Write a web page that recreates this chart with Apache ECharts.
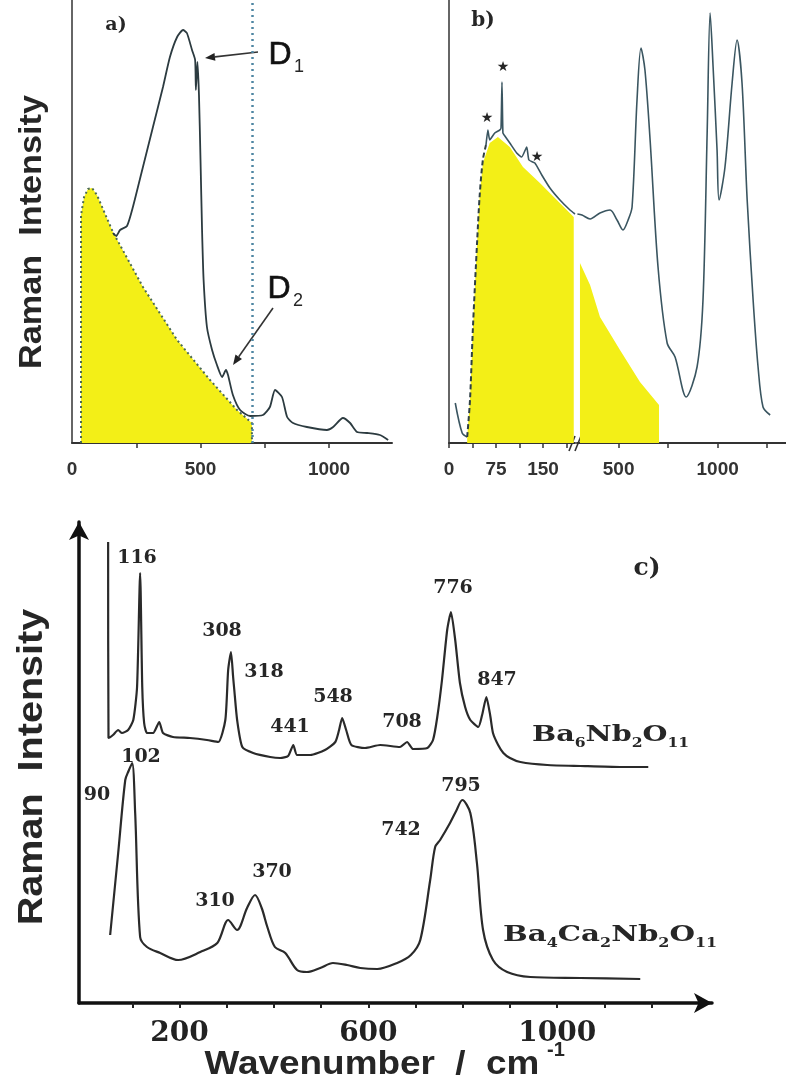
<!DOCTYPE html>
<html>
<head>
<meta charset="utf-8">
<script src="https://cdn.jsdelivr.net/npm/echarts@6/dist/echarts.min.js"></script>
<style>
    html, body { margin: 0; padding: 0; background: #fff; }
    #chart { width: 786px; height: 1090px; }
</style>
</head>
<body>
<div id="chart"></div>
<script>
// ---- a) Raman spectrum, wavenumber vs intensity (arbitrary units)
const curveA = [
    [159, 210], [172, 207], [187, 213], [214, 217], [237, 236], [276, 276], [315, 316], [354, 356], [381, 386],
    [409, 406], [432, 413], [447, 410], [467, 393], [479, 383], [482, 353], [488, 381], [494, 348],
    [500, 283], [506, 213], [512, 163], [525, 116], [545, 93], [564, 78], [584, 66], [599, 73],
    [607, 68], [626, 48], [654, 33], [693, 27], [743, 28], [770, 36], [790, 53], [817, 46],
    [837, 26], [860, 20], [914, 16], [992, 13], [1016, 16], [1054, 25], [1082, 20], [1109, 11],
    [1148, 10], [1198, 8], [1230, 3]
]
const bosonA = [
    [35, 0], [35, 228], [47, 246], [62, 254], [78, 255], [97, 248], [159, 211], [276, 156],
    [409, 103], [537, 63], [642, 33], [700, 20], [700, 0]
]
const cutA = 700
const ticksA = [250, 500, 750, 1000]
const labelsA = [0, 500, 1000]

// ---- b) left part of broken axis (0-200) and right part (290-1345)
const curveB0 = [[10, 40], [21, 10], [29, 6]]
const curveBRise = [[29, 6], [33.5, 43], [38, 113], [45, 203], [49, 248], [54, 283], [59, 298]]
const curveBTop = [
    [59, 298], [62, 313], [65, 303], [73, 310], [81, 313], [83, 315], [84.5, 361], [86, 310],
    [88, 308], [97, 300], [108, 290], [116, 286], [124, 296], [127.5, 283], [137, 280], [148, 268],
    [161, 255], [177, 243], [193, 233], [201, 229]
]
const curveBRight = [
    [292, 229], [315, 228], [356, 224], [406, 230], [457, 233], [492, 223], [522, 213], [548, 223],
    [568, 236], [593, 343], [613, 395], [633, 373], [659, 303], [699, 176], [745, 100], [785, 86],
    [841, 46], [896, 76], [926, 143], [947, 310], [962, 430], [977, 376], [997, 293], [1007, 243],
    [1037, 276], [1073, 360], [1098, 403], [1123, 360], [1149, 243], [1179, 143], [1204, 76],
    [1229, 36], [1265, 28]
]
const bosonB1 = [
    [29, 0], [29, 6], [33.5, 43], [38, 113], [45, 203], [49, 248], [54, 280], [65, 300],
    [78, 306], [97, 296], [118, 276], [145, 260], [172, 243], [199, 226], [199, 0]
]
const bosonB2 = [[305, 0], [305, 180], [356, 158], [406, 126], [507, 93], [608, 61], [704, 38], [704, 0]]
const ticksB1 = [0, 37.5, 75, 112.5, 150, 187.5]
const labelsB1 = [0, 75, 150]
const ticksB2 = [500, 750, 1000, 1250]
const labelsB2 = [500, 1000]

// ---- c) Ba6Nb2O11 (upper) and Ba4Ca2Nb2O11 (lower)
const curveBa6 = [
    [48.7, 461], [49.5, 265], [59, 268], [70, 273], [78, 270], [91, 273], [102, 283], [110, 316],
    [116.5, 430], [121, 316], [125, 280], [131, 270], [144, 270], [157, 281], [165, 270], [186, 266],
    [222, 265], [258, 263], [282, 261], [297, 283], [303, 333], [309, 351], [313.5, 326], [316, 313],
    [322, 283], [333, 256], [356, 250], [392, 246], [413, 245], [430, 247], [441, 258], [449, 248],
    [477, 248], [508, 253], [530, 261], [538, 273], [544.5, 285], [553, 273], [564, 258], [593, 255],
    [625, 258], [667, 256], [682, 261], [695, 254], [725, 255], [737, 263], [746, 286], [756, 323],
    [767, 373], [775, 391], [784, 363], [794, 320], [805, 296], [816, 283], [833, 276], [841, 288],
    [850, 306], [858, 288], [864, 270], [875, 258], [886, 250], [900, 245], [922, 241], [979, 238],
    [1049, 237], [1133, 236], [1193, 236]
]
const curveBa4 = [
    [53, 68], [70, 150], [85, 223], [92, 232], [99.6, 240], [106, 190], [116.5, 66], [131, 56],
    [159, 50], [197, 43], [244, 51], [280, 60], [303, 83], [322, 73], [343, 95], [360, 108],
    [374, 95], [386, 76], [402, 56], [424, 50], [449, 33], [470, 31], [498, 35], [525, 40],
    [555, 38], [583, 35], [619, 34], [661, 40], [690, 48], [710, 63], [731, 123], [741.5, 156],
    [752, 163], [773, 180], [786, 192], [799, 203], [816, 190], [830, 140], [843, 73], [864, 43],
    [894, 31], [943, 26], [1049, 25], [1176, 24]
]
const ticksC = [100, 200, 300, 400, 500, 600, 700, 800, 900, 1000, 1100, 1200]
const labelsC = [200, 600, 1000]

// peak labels of c): [text, x, y] in pixels
const peakLabels = [
    ['116', 137, 558], ['308', 222, 631], ['318', 264, 672], ['441', 290, 727], ['548', 333, 697],
    ['708', 402, 722], ['776', 453, 588], ['847', 497, 680], ['102', 141, 757], ['90', 97, 795],
    ['310', 215, 901], ['370', 272, 872], ['742', 401, 830], ['795', 461, 786]
]
const stars = [[487, 118], [503, 67], [537, 157]]

const SANS = 'Liberation Sans, Arial, sans-serif'
const SERIF = 'DejaVu Serif, serif'
const INK = '#262626'
const YELLOW = '#f3ef17'

function arrow(x1, y1, x2, y2) {
    const len = Math.hypot(x2 - x1, y2 - y1)
    const dx = (x2 - x1) / len, dy = (y2 - y1) / len
    const bx = x2 - dx * 10, by = y2 - dy * 10
    return [
        { type: 'line', shape: { x1, y1, x2: bx, y2: by }, style: { stroke: '#333', lineWidth: 1.6 } },
        { type: 'polygon', shape: { points: [[x2, y2], [bx - dy * 4, by + dx * 4], [bx + dy * 4, by - dx * 4]] }, style: { fill: '#222' } }
    ]
}

function txt(text, x, y, font, extra) {
    return Object.assign({
        type: 'text', x, y,
        style: { text, font, fill: INK, align: 'center', verticalAlign: 'middle' }
    }, extra || {})
}

const plain = v => String(v)
const labelSansStyle = { color: '#333', fontFamily: SANS, fontWeight: 'bold', fontSize: 19, margin: 17, formatter: plain }
const thinAxis = { show: true, onZero: false, lineStyle: { color: '#333', width: 2 } }
const smoothLine = { type: 'line', symbol: 'none', z: 3, smooth: 0.3 }

const chart = echarts.init(document.getElementById('chart'))
chart.setOption({
    animation: false,
    grid: [
        { left: 72, top: 0, width: 320, height: 443 },
        { left: 449, top: 0, width: 126, height: 443 },
        { left: 577, top: 0, width: 209, height: 443 },
        { left: 79, top: 522, width: 633, height: 481 }
    ],
    xAxis: [
        {
            gridIndex: 0, type: 'value', min: 0, max: 1245, axisLine: thinAxis, splitLine: { show: false },
            axisTick: { customValues: ticksA, length: 5, lineStyle: { color: '#333', width: 1.5 } },
            axisLabel: Object.assign({ customValues: labelsA }, labelSansStyle)
        },
        {
            gridIndex: 1, type: 'value', min: 0, max: 201, axisLine: thinAxis, splitLine: { show: false },
            axisTick: { customValues: ticksB1, length: 5, lineStyle: { color: '#333', width: 1.5 } },
            axisLabel: Object.assign({ customValues: labelsB1 }, labelSansStyle)
        },
        {
            gridIndex: 2, type: 'value', min: 290, max: 1345, axisLine: thinAxis, splitLine: { show: false },
            axisTick: { customValues: ticksB2, length: 5, lineStyle: { color: '#333', width: 1.5 } },
            axisLabel: Object.assign({ customValues: labelsB2 }, labelSansStyle)
        },
        {
            gridIndex: 3, type: 'value', min: -13, max: 1328, splitLine: { show: false },
            axisLine: { show: true, onZero: false, symbol: ['none', 'arrow'], symbolSize: [15, 18], lineStyle: { color: '#111', width: 3.5 } },
            axisTick: { customValues: ticksC, length: 5, lineStyle: { color: '#222', width: 2 } },
            axisLabel: { customValues: labelsC, formatter: plain, color: '#222', fontFamily: SERIF, fontWeight: 'bold', fontSize: 28, margin: 17 }
        }
    ],
    yAxis: [
        { gridIndex: 0, type: 'value', min: 0, max: 443, axisLine: { show: true, onZero: false, lineStyle: { color: '#333', width: 1.5 } }, axisTick: { show: false }, axisLabel: { show: false }, splitLine: { show: false } },
        { gridIndex: 1, type: 'value', min: 0, max: 443, axisLine: { show: true, onZero: false, lineStyle: { color: '#333', width: 1.5 } }, axisTick: { show: false }, axisLabel: { show: false }, splitLine: { show: false } },
        { gridIndex: 2, type: 'value', min: 0, max: 443, show: false },
        {
            gridIndex: 3, type: 'value', min: 0, max: 481, splitLine: { show: false }, axisTick: { show: false }, axisLabel: { show: false },
            axisLine: { show: true, onZero: false, symbol: ['none', 'arrow'], symbolSize: [15, 18], lineStyle: { color: '#111', width: 3.5 } }
        }
    ],
    series: [
        {
            type: 'line', xAxisIndex: 0, yAxisIndex: 0, data: bosonA, symbol: 'none', z: 1,
            lineStyle: { color: '#4b6a55', width: 2, type: [2, 3] }, areaStyle: { color: YELLOW, opacity: 1 }
        },
        Object.assign({}, smoothLine, {
            xAxisIndex: 0, yAxisIndex: 0, data: curveA, smooth: 0.2,
            lineStyle: { color: '#2c3b40', width: 1.8 },
            markLine: {
                silent: true, symbol: 'none', label: { show: false },
                lineStyle: { color: '#4f86a3', width: 2.5, type: [2, 4] },
                data: [{ xAxis: cutA }]
            }
        }),
        {
            type: 'line', xAxisIndex: 1, yAxisIndex: 1, data: bosonB1, symbol: 'none', z: 1,
            lineStyle: { width: 0 }, areaStyle: { color: YELLOW, opacity: 1 }
        },
        {
            type: 'line', xAxisIndex: 2, yAxisIndex: 2, data: bosonB2, symbol: 'none', z: 1,
            lineStyle: { width: 0 }, areaStyle: { color: YELLOW, opacity: 1 }
        },
        Object.assign({}, smoothLine, { xAxisIndex: 1, yAxisIndex: 1, data: curveB0, lineStyle: { color: '#3a5560', width: 1.6 } }),
        Object.assign({}, smoothLine, { xAxisIndex: 1, yAxisIndex: 1, data: curveBRise, lineStyle: { color: '#2f4045', width: 2, type: [5, 3] } }),
        Object.assign({}, smoothLine, { xAxisIndex: 1, yAxisIndex: 1, data: curveBTop, smooth: 0.15, lineStyle: { color: '#3a5560', width: 1.6 } }),
        Object.assign({}, smoothLine, { xAxisIndex: 2, yAxisIndex: 2, data: curveBRight, lineStyle: { color: '#3a5560', width: 1.6 } }),
        Object.assign({}, smoothLine, { xAxisIndex: 3, yAxisIndex: 3, data: curveBa6, smooth: 0.2, lineStyle: { color: '#2a2a2a', width: 2.2 } }),
        Object.assign({}, smoothLine, { xAxisIndex: 3, yAxisIndex: 3, data: curveBa4, lineStyle: { color: '#2a2a2a', width: 2.2 } })
    ],
    graphic: [
        txt('Raman  Intensity', 32, 232, 'bold 32px ' + SANS, { rotation: Math.PI / 2, scaleX: 1.07 }),
        txt('Raman  Intensity', 32, 767, 'bold 35px ' + SANS, { rotation: Math.PI / 2, scaleX: 1.13 }),
        txt('Wavenumber  /  cm', 372, 1065, 'bold 34px ' + SANS, { scaleX: 1.085 }),
        txt('-1', 556, 1050, 'bold 20px ' + SANS),
        txt('a)', 116, 25, 'bold 19px ' + SERIF),
        txt('b)', 483, 21, 'bold 20px ' + SERIF),
        txt('c)', 647, 568, 'bold 25px ' + SERIF),
        txt('D', 280, 55, '32px ' + SANS, { style: { text: 'D', font: '32px ' + SANS, fill: '#111', align: 'center', verticalAlign: 'middle', stroke: '#111', lineWidth: 0.6 } }),
        txt('1', 299, 67, '18px ' + SANS),
        txt('D', 279, 289, '32px ' + SANS, { style: { text: 'D', font: '32px ' + SANS, fill: '#111', align: 'center', verticalAlign: 'middle', stroke: '#111', lineWidth: 0.6 } }),
        txt('2', 298, 301, '18px ' + SANS),
        txt('Boson', 126, 365, 'bold 21px ' + SANS),
        txt('Peak', 126, 395, 'bold 21px ' + SANS),
        txt('Boson', 520, 268, 'bold 21px ' + SANS),
        txt('Peak', 522, 301, 'bold 21px ' + SANS),
        ...stars.map(([x, y]) => txt('★', x, y, '14px DejaVu Sans')),
        ...peakLabels.map(([t, x, y]) => txt(t, x, y, 'bold 19px ' + SERIF)),
        {
            type: 'text', x: 532, y: 735, scaleX: 1.3,
            style: {
                text: '{m|Ba}{s|6}{m|Nb}{s|2}{m|O}{s|11}', fill: INK, verticalAlign: 'middle',
                rich: {
                    m: { font: 'bold 22px ' + SERIF, lineHeight: 30 },
                    s: { font: 'bold 12px ' + SERIF, lineHeight: 30, verticalAlign: 'bottom' }
                }
            }
        },
        {
            type: 'text', x: 503, y: 935, scaleX: 1.33,
            style: {
                text: '{m|Ba}{s|4}{m|Ca}{s|2}{m|Nb}{s|2}{m|O}{s|11}', fill: INK, verticalAlign: 'middle',
                rich: {
                    m: { font: 'bold 22px ' + SERIF, lineHeight: 30 },
                    s: { font: 'bold 12px ' + SERIF, lineHeight: 30, verticalAlign: 'bottom' }
                }
            }
        },
        ...arrow(258, 52, 205, 58),
        ...arrow(273, 308, 233, 365),
        { type: 'line', shape: { x1: 569, y1: 451, x2: 575, y2: 436 }, style: { stroke: '#333', lineWidth: 1.6 } },
        { type: 'line', shape: { x1: 575, y1: 451, x2: 581, y2: 436 }, style: { stroke: '#333', lineWidth: 1.6 } }
    ]
})
</script>
</body>
</html>
